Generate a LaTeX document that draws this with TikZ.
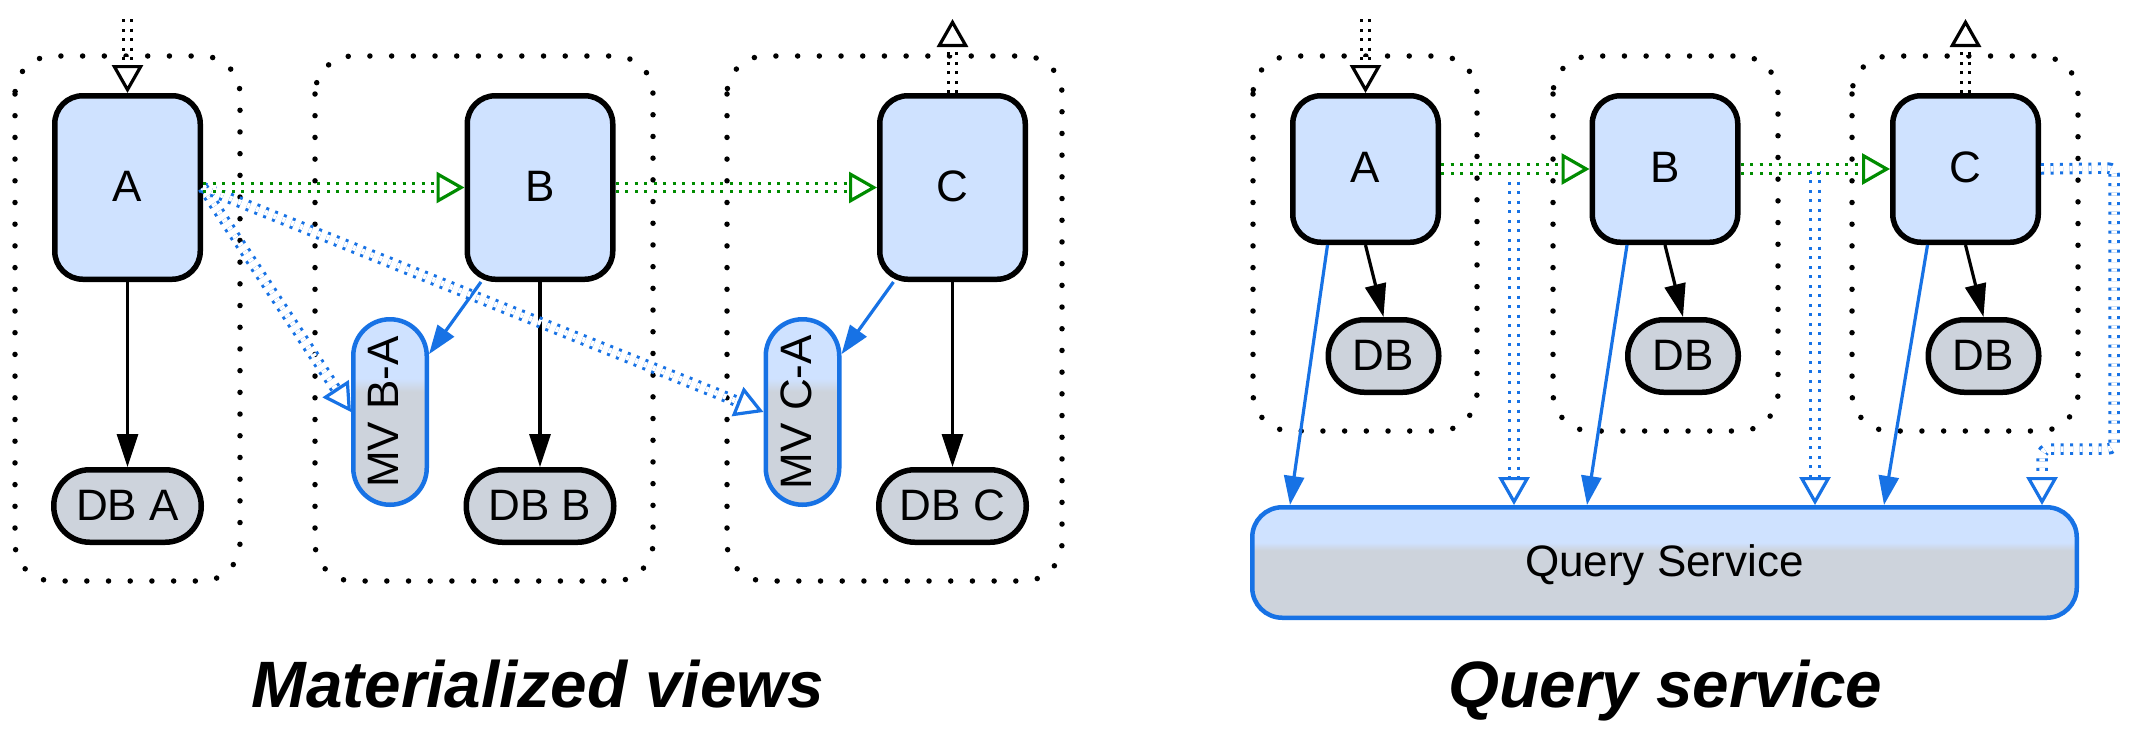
\documentclass[tikz,border=0pt]{standalone}
\usepackage{fontspec}
\setmainfont{Liberation Sans}
\usetikzlibrary{arrows.meta,calc}
\definecolor{nodeblue}{RGB}{207,226,255}
\definecolor{dbgray}{RGB}{205,211,220}
\definecolor{lineblue}{RGB}{23,114,229}
\definecolor{linegreen}{RGB}{0,140,0}
\pgfdeclareverticalshading{mvshade}{100bp}{color(0bp)=(dbgray); color(55.5bp)=(dbgray); color(59bp)=(nodeblue); color(100bp)=(nodeblue)}
\begin{document}
\begin{tikzpicture}[x=1pt,y=-1pt,
  every node/.style={font=\fontsize{44}{50}\selectfont, inner sep=0pt},
  svc/.style={draw=black, line width=5.5pt, fill=nodeblue, rounded corners=28pt, minimum width=145.5pt},
  svcL/.style={svc, minimum height=183.5pt, text depth=0.22em},
  svcR/.style={svc, minimum height=146.5pt, text depth=0.36em},
  dbL/.style={draw=black, line width=5.5pt, fill=dbgray, rounded corners=36pt, minimum width=147.5pt, minimum height=72.5pt, text depth=0.16em},
  dbR/.style={dbL, minimum width=110.5pt},
  mv/.style={draw=lineblue, line width=4.5pt, shade, shading=mvshade, rounded corners=36.7pt, minimum width=73.5pt, minimum height=185.5pt},
  qs/.style={draw=lineblue, line width=4.5pt, shade, shading=mvshade, rounded corners=30pt, minimum width=824.5pt, minimum height=110.5pt, text depth=0.42em},
  box/.style={line width=5.5pt, dash pattern=on 0pt off 21.7pt, line cap=round, rounded corners=38pt},
  dd/.style={line width=3pt, double=white, double distance=5.5pt, dash pattern=on 3pt off 6.5pt, draw=#1, shorten >=27pt},
  otip/.style={draw=#1, line width=3.2pt, -{Triangle[open, length=28pt, width=31pt]}},
  ftip/.style={draw=black, line width=3.2pt, -{Triangle[length=33pt, width=21pt]}},
  btip/.style={draw=lineblue, line width=3.2pt, -{Triangle[length=29pt, width=20pt]}},
  title/.style={anchor=base, font=\fontsize{65.6}{70}\selectfont\bfseries\itshape}
]
\fill[white] (0,0) rectangle (2136,739);
\useasboundingbox (0,0) rectangle (2136,739);

% ---------- containers ----------
\draw[box] (15,56) rectangle (240,581);
\draw[box] (315,56) rectangle (653,581);
\draw[box] (727,56) rectangle (1062,581);
\draw[box] (1253,56) rectangle (1477,431);
\draw[box] (1553,56) rectangle (1778,431);
\draw[box] (1852,56) rectangle (2078,431);

% ---------- left panel nodes ----------
\node[svcL] (A) at (127.5,187.5) {A};
\node[svcL] (B) at (540,187.5) {B};
\node[svcL] (C) at (952.5,187.5) {C};
\node[dbL] (dA) at (127.5,506) {DB A};
\node[dbL] (dB) at (540,506) {DB B};
\node[dbL] (dC) at (952.5,506) {DB C};
\node[mv] (mBA) at (390,412) {\rotatebox{90}{\rule[-0.3em]{0pt}{0.3em}MV B-A}};
\node[mv] (mCA) at (802.5,412) {\rotatebox{90}{\rule[-0.3em]{0pt}{0.3em}MV C-A}};

\coordinate (inL) at (127.5,19);
\coordinate (outL) at (952.5,19);

% ---------- left panel connectors ----------
\draw[ftip] (A.south) -- (dA.north);
\draw[ftip] (B.south) -- (dB.north);
\draw[ftip] (C.south) -- (dC.north);
\draw[btip] (B.238) -- (mBA.56);
\draw[btip] (C.238) -- (mCA.56);

\draw[dd=lineblue] (A.east) -- (mBA.west);
\draw[otip=lineblue] ($(mBA.west)!28pt!(A.east)$) -- (mBA.west);
\draw[dd=lineblue] (A.east) -- (mCA.west);
\draw[otip=lineblue] ($(mCA.west)!28pt!(A.east)$) -- (mCA.west);
\draw[dd=linegreen] (A.east) -- (B.west);
\draw[otip=linegreen] ($(B.west)!28pt!(A.east)$) -- (B.west);
\draw[dd=linegreen] (B.east) -- (C.west);
\draw[otip=linegreen] ($(C.west)!28pt!(B.east)$) -- (C.west);
\draw[dd=black] (inL) -- (A.north);
\draw[otip=black] ($(A.north)!28pt!(inL)$) -- (A.north);
\draw[dd=black] (C.north) -- (outL);
\draw[otip=black] ($(outL)!28pt!(C.north)$) -- (outL);

% ---------- right panel nodes ----------
\node[svcR] (A2) at (1365.5,169) {A};
\node[svcR] (B2) at (1665,169) {B};
\node[svcR] (C2) at (1965.5,169) {C};
\node[dbR] (dA2) at (1383.5,356) {DB};
\node[dbR] (dB2) at (1683,356) {DB};
\node[dbR] (dC2) at (1983.5,356) {DB};
\node[qs] (QS) at (1664.5,562.5) {Query Service};

\coordinate (inR) at (1365.5,19);
\coordinate (outR) at (1965.5,19);
\coordinate (p1) at (1290,505);
\coordinate (p2) at (1587,505);
\coordinate (p3) at (1884,505);
\coordinate (q1) at (1514,505);
\coordinate (q2) at (1815,505);
\coordinate (q3) at (2042,505);
\coordinate (r1) at (2114,168);
\coordinate (r2) at (2114,449);
\coordinate (r3) at (2042,449);

% ---------- right panel connectors ----------
\draw[ftip] (A2.south) -- (dA2.north);
\draw[ftip] (B2.south) -- (dB2.north);
\draw[ftip] (C2.south) -- (dC2.north);
\draw[btip] ($(A2.south)+(-38,0)$) -- (p1);
\draw[btip] ($(B2.south)+(-38,0)$) -- (p2);
\draw[btip] ($(C2.south)+(-38,0)$) -- (p3);

\draw[dd=lineblue] (A2.east) -| (q1);
\draw[otip=lineblue] ($(q1)+(0,-28)$) -- (q1);
\draw[dd=lineblue] (B2.east) -| (q2);
\draw[otip=lineblue] ($(q2)+(0,-28)$) -- (q2);
\draw[dd=lineblue, rounded corners=6pt] (C2.east) -- (r1) -- (r2) -- (r3) -- (q3);
\draw[otip=lineblue] ($(q3)+(0,-28)$) -- (q3);
\draw[dd=linegreen] (A2.east) -- (B2.west);
\draw[otip=linegreen] ($(B2.west)!28pt!(A2.east)$) -- (B2.west);
\draw[dd=linegreen] (B2.east) -- (C2.west);
\draw[otip=linegreen] ($(C2.west)!28pt!(B2.east)$) -- (C2.west);
\draw[dd=black] (inR) -- (A2.north);
\draw[otip=black] ($(A2.north)!28pt!(inR)$) -- (A2.north);
\draw[dd=black] (C2.north) -- (outR);
\draw[otip=black] ($(outR)!28pt!(C2.north)$) -- (outR);

% ---------- titles ----------
\node[title] (t1) at (538,707) {Materialized views};
\node[title] (t2) at (1665.5,707) {Query service};
\end{tikzpicture}
\end{document}
